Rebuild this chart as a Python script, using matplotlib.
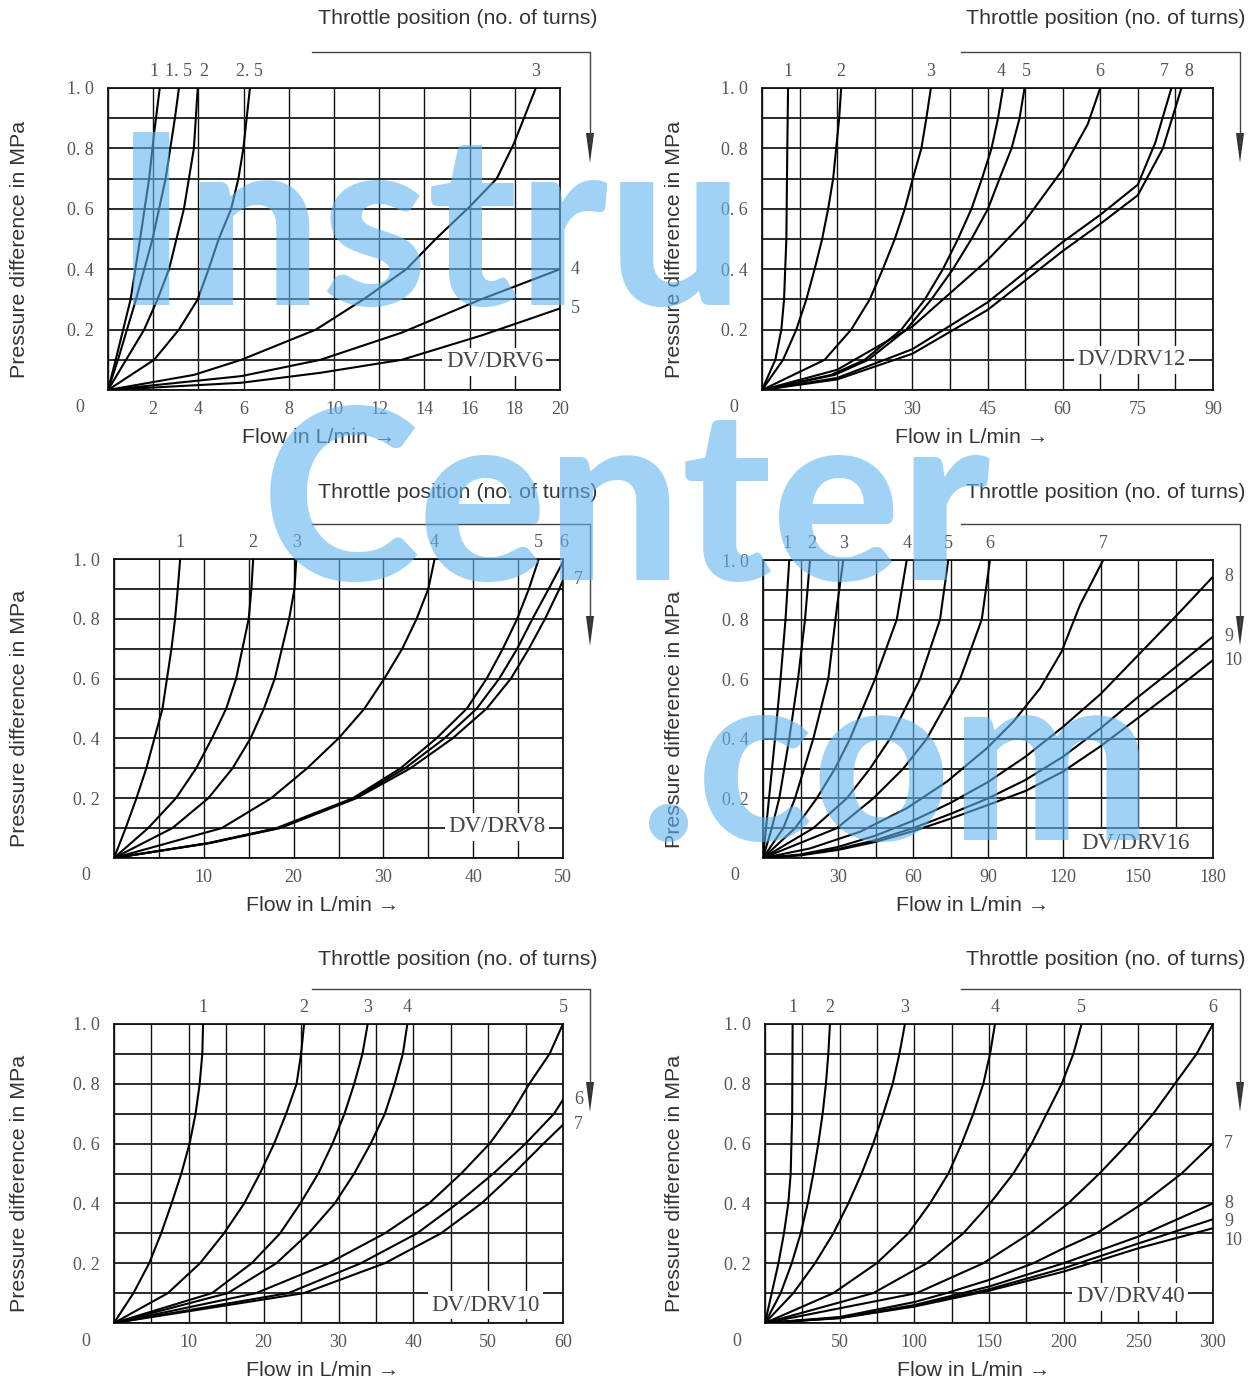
import numpy as np
import matplotlib
matplotlib.use("Agg")
import matplotlib.pyplot as plt
from matplotlib import font_manager as fm

# ---------------------------------------------------------------- data
# DV/DRV6  (flow 0..20 L/min)
DRV6_NAMES = ["1", "1.5", "2", "2.5", "3", "4", "5"]
DRV6_Q = [
    [0, 0.34, 1.0, 1.42, 1.82, 2.04, 2.29],
    [0, 0.44, 1.24, 1.97, 2.55, 2.96, 3.14],
    [0, 0.8, 1.6, 2.19, 2.7, 3.36, 3.8, 3.97],
    [0, 2.04, 3.14, 3.97, 4.45, 4.9, 5.45, 5.77, 5.99, 6.28],
    [0, 3.8, 5.9, 9.2, 11.3, 13.2, 14.5, 16.0, 17.2, 17.96, 18.93],
    [0, 5.9, 9.4, 13.0, 16.5, 20],
    [0, 5.9, 9.4, 13.0, 16.5, 20],
]
DRV6_DP = [
    [0, 0.1, 0.3, 0.5, 0.7, 0.85, 1.0],
    [0, 0.1, 0.3, 0.5, 0.7, 0.9, 1.0],
    [0, 0.1, 0.2, 0.3, 0.4, 0.6, 0.8, 1.0],
    [0, 0.1, 0.2, 0.3, 0.4, 0.5, 0.6, 0.7, 0.8, 1.0],
    [0, 0.05, 0.1, 0.2, 0.3, 0.4, 0.5, 0.607, 0.70, 0.816, 1.0],
    [0, 0.046, 0.10, 0.19, 0.30, 0.40],
    [0, 0.024, 0.057, 0.10, 0.18, 0.27],
]

# DV/DRV12  (flow 0..90 L/min)
DRV12_NAMES = ["1", "2", "3", "4", "5", "6", "7", "8"]
DRV12_Q = [
    [0, 2.66, 3.86, 4.4, 4.86, 5.05, 5.2],
    [0, 4.2, 6.85, 8.85, 10.5, 12.0, 13.2, 14.2, 14.8, 15.4, 15.8],
    [0, 12.5, 17.8, 21.5, 24.1, 26.5, 28.5, 30.1, 31.8, 32.8, 33.7],
    [0, 13.8, 20.5, 27.8, 32.5, 36.1, 39.1, 41.8, 43.9, 45.8, 47.1, 48.1],
    [0, 14.5, 21.2, 28.8, 33.8, 38.1, 41.8, 45.1, 47.4, 49.8, 51.4, 52.4],
    [0, 15, 30, 45, 52.5, 60, 65, 67.5],
    [0, 15, 30, 45, 60, 67.5, 75, 78.5, 81.7],
    [0, 15, 30, 45, 60, 67.5, 75, 80, 83.7],
]
DRV12_DP = [
    [0, 0.1, 0.2, 0.3, 0.5, 0.8, 1.0],
    [0, 0.1, 0.2, 0.3, 0.4, 0.5, 0.6, 0.7, 0.8, 0.9, 1.0],
    [0, 0.1, 0.2, 0.3, 0.4, 0.5, 0.6, 0.7, 0.8, 0.9, 1.0],
    [0, 0.05, 0.1, 0.2, 0.3, 0.4, 0.5, 0.6, 0.7, 0.8, 0.9, 1.0],
    [0, 0.05, 0.1, 0.2, 0.3, 0.4, 0.5, 0.6, 0.7, 0.8, 0.9, 1.0],
    [0, 0.067, 0.21, 0.43, 0.56, 0.73, 0.88, 1.0],
    [0, 0.04, 0.135, 0.29, 0.49, 0.58, 0.68, 0.82, 1.0],
    [0, 0.035, 0.12, 0.265, 0.46, 0.55, 0.645, 0.80, 1.0],
]

# DV/DRV8  (flow 0..50 L/min)
DRV8_NAMES = ["1", "2", "3", "4", "5", "6", "7"]
DRV8_Q = [
    [0, 1.3, 2.5, 3.6, 4.5, 5.4, 5.9, 6.4, 6.8, 7.1, 7.37],
    [0, 3.8, 6.9, 9.15, 10.9, 12.5, 13.6, 14.3, 15.0, 15.3, 15.5],
    [0, 6.5, 10.5, 13.2, 15.2, 16.7, 17.9, 18.7, 19.5, 20.1, 20.3],
    [0, 12, 17.5, 21.5, 25, 27.9, 30.1, 32.1, 33.7, 35, 35.7],
    [0, 10.5, 18.1, 26.6, 31.9, 35.9, 39.3, 41.5, 43.3, 44.9, 46.2, 47.3],
    [0, 10.6, 18.3, 26.8, 32.4, 36.8, 40.4, 42.9, 44.9, 46.6, 48.4, 50],
    [0, 10.7, 18.5, 27, 33, 37.7, 41.5, 44.2, 46.2, 48, 49.6, 50],
]
DRV8_DP = [
    [0, 0.1, 0.2, 0.3, 0.4, 0.5, 0.6, 0.7, 0.8, 0.9, 1.0],
    [0, 0.1, 0.2, 0.3, 0.4, 0.5, 0.6, 0.7, 0.8, 0.9, 1.0],
    [0, 0.1, 0.2, 0.3, 0.4, 0.5, 0.6, 0.7, 0.8, 0.9, 1.0],
    [0, 0.1, 0.2, 0.3, 0.4, 0.5, 0.6, 0.7, 0.8, 0.9, 1.0],
    [0, 0.05, 0.1, 0.2, 0.3, 0.4, 0.5, 0.6, 0.7, 0.8, 0.9, 1.0],
    [0, 0.05, 0.1, 0.2, 0.3, 0.4, 0.5, 0.6, 0.7, 0.8, 0.9, 0.99],
    [0, 0.05, 0.1, 0.2, 0.3, 0.4, 0.5, 0.6, 0.7, 0.8, 0.9, 0.93],
]

# DV/DRV16  (flow 0..180 L/min)
DRV16_NAMES = ["1", "2", "3", "4", "5", "6", "7", "8", "9", "10"]
DRV16_FLOW = [0, 15, 30, 45, 60, 75, 90, 105, 120, 135, 150, 165, 180]
DRV16_Q = [
    [0, 2.4, 4.8, 7.0, 9.0, 10.5],
    [0, 3.5, 6.5, 10.5, 14.0, 16.8, 18.8],
    [0, 8.1, 12.8, 20.1, 26.1, 29.7, 32.1],
    [0, 12.8, 21.5, 28.8, 34.8, 44.8, 53.5, 57.5],
    [0, 20.1, 33.5, 42.8, 50.8, 62.8, 70.8, 74.1],
    [0, 29.5, 44.1, 56.1, 65.5, 78.8, 87.5, 90.8],
    [0, 18.8, 38.8, 57.5, 73.5, 89.5, 100.1, 110.8, 119.4, 126.8, 136.1],
    DRV16_FLOW,
    DRV16_FLOW,
    DRV16_FLOW,
]
DRV16_DP = [
    [0, 0.2, 0.4, 0.6, 0.8, 1.0],
    [0, 0.1, 0.2, 0.4, 0.6, 0.8, 1.0],
    [0, 0.1, 0.2, 0.4, 0.6, 0.85, 1.0],
    [0, 0.1, 0.2, 0.3, 0.4, 0.6, 0.8, 1.0],
    [0, 0.1, 0.2, 0.3, 0.4, 0.6, 0.8, 1.0],
    [0, 0.1, 0.2, 0.3, 0.4, 0.6, 0.8, 1.0],
    [0, 0.032, 0.088, 0.167, 0.256, 0.368, 0.457, 0.569, 0.692, 0.849, 1.0],
    [0, 0.012, 0.037, 0.075, 0.125, 0.185, 0.255, 0.34, 0.44, 0.55, 0.68, 0.81, 0.944],
    [0, 0.01, 0.03, 0.06, 0.10, 0.148, 0.20, 0.262, 0.34, 0.435, 0.54, 0.64, 0.743],
    [0, 0.009, 0.027, 0.054, 0.09, 0.132, 0.178, 0.225, 0.29, 0.375, 0.47, 0.565, 0.664],
]

# DV/DRV10  (flow 0..60 L/min)
DRV10_NAMES = ["1", "2", "3", "4", "5", "6", "7"]
DRV10_Q = [
    [0, 2.6, 4.7, 6.3, 7.7, 9.0, 10.1, 10.9, 11.45, 11.8, 11.9],
    [0, 7.2, 11.5, 14.7, 17.4, 19.5, 21.4, 23, 24.4, 25, 25.4],
    [0, 13.1, 18.4, 22.2, 24.9, 27.3, 29.2, 30.8, 32.1, 33.2, 33.9],
    [0, 15.2, 21.7, 26, 29.5, 32.1, 34.3, 36.2, 37.5, 38.6, 39.2],
    [0, 19, 28.7, 36.2, 42.1, 46.4, 50.2, 53.1, 55.5, 58.2, 60],
    [0, 23.3, 33, 40.5, 45.9, 50.7, 55, 58.8, 60],
    [0, 25.4, 36.2, 43.7, 49.1, 53.4, 57.4, 60],
]
DRV10_DP = [
    [0, 0.1, 0.2, 0.3, 0.4, 0.5, 0.6, 0.7, 0.8, 0.9, 1.0],
    [0, 0.1, 0.2, 0.3, 0.4, 0.5, 0.6, 0.7, 0.8, 0.9, 1.0],
    [0, 0.1, 0.2, 0.3, 0.4, 0.5, 0.6, 0.7, 0.8, 0.9, 1.0],
    [0, 0.1, 0.2, 0.3, 0.4, 0.5, 0.6, 0.7, 0.8, 0.9, 1.0],
    [0, 0.1, 0.2, 0.3, 0.4, 0.5, 0.6, 0.7, 0.8, 0.9, 1.0],
    [0, 0.1, 0.2, 0.3, 0.4, 0.5, 0.6, 0.7, 0.747],
    [0, 0.1, 0.2, 0.3, 0.4, 0.5, 0.6, 0.663],
]

# DV/DRV40  (flow 0..300 L/min)
DRV40_NAMES = ["1", "2", "3", "4", "5", "6", "7", "8", "9", "10"]
DRV40_FLOW = [0, 50, 100, 150, 200, 250, 300]
DRV40_Q = [
    [0, 4.5, 9, 12.7, 15.6, 17.2, 18.2, 18.5],
    [0, 10.5, 17.9, 23.9, 28.6, 32.4, 35.7, 38.6, 40.8, 42.4, 43.5],
    [0, 19, 33.5, 45.8, 55.8, 64.7, 72.5, 79.2, 85.5, 90, 93.7],
    [0, 45.8, 74.8, 96, 110.5, 122.8, 131.7, 139.5, 146.2, 150.7, 154],
    [0, 72.5, 108.3, 132.8, 150.7, 166.3, 178.6, 188.6, 198.7, 206.5, 212],
    [0, 101.6, 146.2, 177.4, 203, 224, 243, 260, 274.5, 289, 300],
    [0, 50, 100, 121.6, 150, 179.7, 200, 222, 253, 279, 300],
    DRV40_FLOW,
    DRV40_FLOW,
    DRV40_FLOW,
]
DRV40_DP = [
    [0, 0.1, 0.2, 0.3, 0.4, 0.5, 0.7, 1.0],
    [0, 0.1, 0.2, 0.3, 0.4, 0.5, 0.6, 0.7, 0.8, 0.9, 1.0],
    [0, 0.1, 0.2, 0.3, 0.4, 0.5, 0.6, 0.7, 0.8, 0.9, 1.0],
    [0, 0.1, 0.2, 0.3, 0.4, 0.5, 0.6, 0.7, 0.8, 0.9, 1.0],
    [0, 0.1, 0.2, 0.3, 0.4, 0.5, 0.6, 0.7, 0.8, 0.9, 1.0],
    [0, 0.1, 0.2, 0.3, 0.4, 0.5, 0.6, 0.7, 0.8, 0.9, 1.0],
    [0, 0.02, 0.07, 0.1, 0.144, 0.2, 0.25, 0.3, 0.4, 0.5, 0.601],
    [0, 0.018, 0.06, 0.122, 0.2, 0.289, 0.40],
    [0, 0.017, 0.057, 0.113, 0.183, 0.266, 0.347],
    [0, 0.016, 0.055, 0.108, 0.172, 0.25, 0.317],
]

Y_TICKS = [0.2, 0.4, 0.6, 0.8, 1.0]
TITLE_TEXT = "Throttle position (no. of turns)"
X_LABEL = "Flow in L/min \u2192"
Y_LABEL = "Pressure difference in MPa"
WATERMARK = ["Instru", "Center", ".com"]

# ---------------------------------------------------------------- layout
W, H = 1260, 1381
plt.rcParams["font.family"] = ["Liberation Serif", "DejaVu Serif"]
SANS = ["Liberation Sans", "DejaVu Sans"]

fig = plt.figure(figsize=(W / 100, H / 100), dpi=100)
fig.patch.set_facecolor("white")

PANELS = [
    dict(tag="DV/DRV6", box=(108, 88, 560, 390), xmax=20, grid=2, lab=2,
         names=DRV6_NAMES, Q=DRV6_Q, P=DRV6_DP, tagpos=(0.855, 0.093), col=0, row=0),
    dict(tag="DV/DRV12", box=(762, 88, 1213, 390), xmax=90, grid=7.5, lab=15,
         names=DRV12_NAMES, Q=DRV12_Q, P=DRV12_DP, tagpos=(0.82, 0.10), col=1, row=0),
    dict(tag="DV/DRV8", box=(114, 559, 563, 858), xmax=50, grid=5, lab=10,
         names=DRV8_NAMES, Q=DRV8_Q, P=DRV8_DP, tagpos=(0.853, 0.104), col=0, row=1),
    dict(tag="DV/DRV16", box=(763, 560, 1213, 858), xmax=180, grid=15, lab=30,
         names=DRV16_NAMES, Q=DRV16_Q, P=DRV16_DP, tagpos=(0.827, 0.05), col=1, row=1),
    dict(tag="DV/DRV10", box=(114, 1024, 563, 1323), xmax=60, grid=5, lab=10,
         names=DRV10_NAMES, Q=DRV10_Q, P=DRV10_DP, tagpos=(0.828, 0.06), col=0, row=2),
    dict(tag="DV/DRV40", box=(765, 1024, 1213, 1323), xmax=300, grid=25, lab=50,
         names=DRV40_NAMES, Q=DRV40_Q, P=DRV40_DP, tagpos=(0.815, 0.087), col=1, row=2),
]

TXT_RIGHT = [598, 1245]
ARROW_X = [590, 1240]
ARROW_X0 = [312, 961]
ROW_LINE_Y = [52, 524, 989]
ROW_TEXT_Y = [18, 492, 959]
ROW_TIP_Y = [163, 646, 1112]
YLAB_X = [20, 675]

TICK_COLOR = "#555555"
TICK_SIZE = 13
SANS_SIZE = 15.4


def disp(s):
    return s.replace(".", ". ")


def label_px(s):
    return 9 * sum(ch.isdigit() for ch in s) + 9 * s.count(".")


for pn in PANELS:
    l, t, r, b = pn["box"]
    xmax = pn["xmax"]
    ax = fig.add_axes([l / W, 1 - b / H, (r - l) / W, (b - t) / H])
    ax.set_xlim(0, xmax)
    ax.set_ylim(0, 1)
    major = np.arange(0, xmax + 1e-9, pn["lab"])
    ax.set_xticks(major)
    ax.set_xticks(np.arange(0, xmax + 1e-9, pn["grid"]), minor=True)
    ax.set_xticklabels(["" if v == 0 else f"{v:g}" for v in major])
    ax.set_yticks(Y_TICKS)
    ax.set_yticks(np.arange(0, 1.0001, 0.1), minor=True)
    ax.set_yticklabels([disp(f"{v:.1f}") for v in Y_TICKS])
    ax.xaxis.grid(True, which="both", color="#111111", lw=1.0)
    ax.yaxis.grid(True, which="both", color="#2a2a2a", lw=1.4)
    ax.set_axisbelow(True)
    ax.tick_params(which="both", length=0)
    ax.tick_params(axis="x", pad=8, labelsize=TICK_SIZE, labelcolor=TICK_COLOR)
    ax.tick_params(axis="y", pad=10, labelsize=TICK_SIZE, labelcolor=TICK_COLOR)
    for sp in ax.spines.values():
        sp.set_color("#111111")
        sp.set_linewidth(1.3)

    ax.annotate("0", xy=(0, 0), xytext=(-28, -18), textcoords="offset pixels",
                ha="center", va="center", fontsize=TICK_SIZE, color=TICK_COLOR,
                annotation_clip=False)

    for q, p in zip(pn["Q"], pn["P"]):
        ax.plot(q, p, color="black", lw=1.5, solid_joinstyle="round",
                solid_capstyle="round", zorder=3)

    top, right = [], []
    for name, q, p in zip(pn["names"], pn["Q"], pn["P"]):
        if p[-1] >= 0.97:
            top.append([l + q[-1] / xmax * (r - l), name])
        else:
            right.append((p[-1], name))
    top.sort()
    for _ in range(30):
        for i in range(len(top) - 1):
            need = max((label_px(top[i][1]) + label_px(top[i + 1][1])) / 2 + 6, 25)
            gap = top[i + 1][0] - top[i][0]
            if gap < need:
                d = (need - gap) / 2
                top[i][0] -= d
                top[i + 1][0] += d
    for xp, name in top:
        xd = (xp - l) / (r - l) * xmax
        ax.annotate(disp(name), xy=(xd, 1.0), xytext=(0, 6), textcoords="offset points",
                    ha="center", va="bottom", fontsize=TICK_SIZE, color=TICK_COLOR,
                    annotation_clip=False)
    right.sort(reverse=True)
    prev = 10
    for y, name in right:
        yl = min(y, prev - 0.062)
        prev = yl
        ax.annotate(disp(name), xy=(xmax, yl), xytext=(8, 0), textcoords="offset points",
                    ha="left", va="center", fontsize=TICK_SIZE, color=TICK_COLOR,
                    annotation_clip=False)

    ax.text(pn["tagpos"][0], pn["tagpos"][1], pn["tag"], transform=ax.transAxes,
            ha="center", va="center", fontsize=16.5, color="#444444", zorder=2,
            bbox=dict(fc="white", ec="none", pad=2.5))

ov = fig.add_axes([0, 0, 1, 1])
ov.set_xlim(0, W)
ov.set_ylim(H, 0)
ov.axis("off")
ov.patch.set_alpha(0)

for pn in PANELS:
    l, t, r, b = pn["box"]
    c, rw = pn["col"], pn["row"]
    ov.text(TXT_RIGHT[c], ROW_TEXT_Y[rw], TITLE_TEXT, ha="right", va="center",
            fontsize=SANS_SIZE, family=SANS, color="#333333")
    ov.plot([ARROW_X0[c], ARROW_X[c], ARROW_X[c]],
            [ROW_LINE_Y[rw], ROW_LINE_Y[rw], ROW_TIP_Y[rw] - 20],
            color="#444444", lw=1.0)
    tip = ROW_TIP_Y[rw]
    ov.fill([ARROW_X[c] - 4, ARROW_X[c] + 4, ARROW_X[c]],
            [tip - 30, tip - 30, tip], color="#333333", lw=0)
    ov.text(l + 0.465 * (r - l), b + 47, X_LABEL, ha="center", va="center",
            fontsize=SANS_SIZE, family=SANS, color="#333333")
    ov.text(YLAB_X[c], (t + b) / 2 + 10, Y_LABEL, ha="center", va="center",
            rotation=90, fontsize=SANS_SIZE, family=SANS, color="#333333")


# ---- watermark: heaviest installed sans face
def heaviest_face():
    prefs = ["Lato", "Roboto", "Inter", "Open Sans", "Noto Sans", "DejaVu Sans"]
    best = None
    for rank, fam in enumerate(prefs):
        for f in fm.fontManager.ttflist:
            if not f.name.startswith(fam) or f.style != "normal":
                continue
            if any(k in f.name for k in ("Mono", "Condensed", "Serif", "CJK", "Display")):
                continue
            w = f.weight
            if not isinstance(w, (int, float)):
                w = fm.weight_dict.get(w, 400)
            w = int(w)
            key = (w, -rank)
            if best is None or key > best[0]:
                best = (key, f.fname)
    return best[1] if best else None


wm_file = heaviest_face()
if wm_file:
    WM_PROP = fm.FontProperties(fname=wm_file, size=160)
else:
    WM_PROP = fm.FontProperties(family="DejaVu Sans", weight="bold", size=160)

WM_LEFT = [115, 262, 640]
WM_BASE = [305, 580, 840]
WM_WIDTH = [645, 758, 525]
renderer = fig.canvas.get_renderer()
wm_texts = []
for s, x0, y0 in zip(WATERMARK, WM_LEFT, WM_BASE):
    tx = ov.text(x0, y0, s, fontproperties=WM_PROP, color="#60b4ee", alpha=0.6,
                 ha="left", va="baseline", zorder=10)
    wm_texts.append(tx)
tot = sum(tx.get_window_extent(renderer=renderer).width for tx in wm_texts)
size = 160 * sum(WM_WIDTH) / tot
size = max(140, min(size, 172))
for tx in wm_texts:
    tx.set_fontsize(size)

fig.savefig("out.png", dpi=100, facecolor="white")
